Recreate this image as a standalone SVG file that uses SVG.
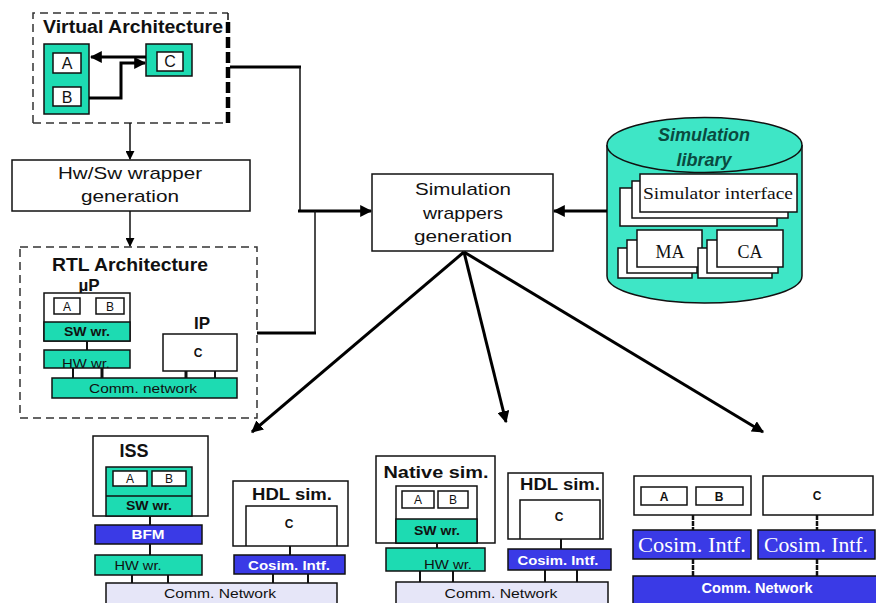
<svg xmlns="http://www.w3.org/2000/svg" width="876" height="603" viewBox="0 0 876 603">
<defs>
<style>
text{font-family:"Liberation Sans",Arial,sans-serif;fill:#111;text-anchor:middle}
.b{font-weight:bold}
.serif{font-family:"Liberation Serif","Times New Roman",serif}
.w{fill:#fff}
.box{fill:#fff;stroke:#111;stroke-width:1.5}
.teal{fill:#1ddbb2;stroke:#111;stroke-width:1.5}
.blue{fill:#3a3ae6;stroke:#111;stroke-width:1.5}
.lav{fill:#e6e6f8;stroke:#111;stroke-width:1.5}
.thin{stroke:#111;stroke-width:1.5;fill:none}
.thick{stroke:#000;stroke-width:3;fill:none}
.dash{fill:none;stroke:#333;stroke-width:1.5;stroke-dasharray:8 5}
.tick{stroke:#111;stroke-width:2}
.chain{stroke:#111;stroke-width:2.5;stroke-dasharray:5 1}
</style>
<marker id="ah" viewBox="0 0 10 10" refX="9" refY="5" markerWidth="4" markerHeight="4" orient="auto" markerUnits="strokeWidth">
<path d="M0,0 L10,5 L0,10 z" fill="#000"/>
</marker>
<marker id="ah2" viewBox="0 0 10 10" refX="9" refY="5" markerWidth="6" markerHeight="6" orient="auto" markerUnits="strokeWidth">
<path d="M0,0 L10,5 L0,10 z" fill="#000"/>
</marker>
</defs>

<g id="virtual-architecture">
<path d="M33,123 V13 H228" class="dash"/>
<path d="M228,13 V20" class="thin"/>
<path d="M228,22 V123" fill="none" stroke="#000" stroke-width="4.5" stroke-dasharray="11 4"/>
<path d="M33,123 H228" class="dash"/>
<text x="133" y="33" class="b" font-size="18" textLength="180" lengthAdjust="spacingAndGlyphs">Virtual Architecture</text>
<rect x="44" y="44" width="45" height="70" class="teal"/>
<rect x="53" y="53" width="28" height="20" class="box"/>
<text x="67" y="69" font-size="16">A</text>
<rect x="53" y="87" width="28" height="19" class="box"/>
<text x="67" y="103" font-size="16">B</text>
<rect x="146" y="44" width="46" height="32" class="teal"/>
<rect x="157" y="52" width="26" height="19" class="box"/>
<text x="170" y="67" font-size="16">C</text>
</g>

<g id="hwsw-wrapper">
<rect x="12" y="160" width="238" height="51" class="box"/>
<text x="130" y="179" font-size="17" textLength="144" lengthAdjust="spacingAndGlyphs">Hw/Sw wrapper</text>
<text x="130" y="202" font-size="17" textLength="98" lengthAdjust="spacingAndGlyphs">generation</text>
</g>

<g id="rtl-architecture">
<rect x="20" y="247" width="237" height="171" class="dash" stroke="#555"/>
<text x="130" y="271" class="b" font-size="18" textLength="156" lengthAdjust="spacingAndGlyphs">RTL Architecture</text>
<text x="89" y="291" class="b" font-size="17">µP</text>
<rect x="44" y="293" width="86" height="48" class="box"/>
<rect x="54" y="298" width="26" height="16" class="box"/>
<text x="67" y="311" font-size="12">A</text>
<rect x="96" y="298" width="28" height="16" class="box"/>
<text x="110" y="311" font-size="12">B</text>
<rect x="44" y="322" width="86" height="19" class="teal"/>
<text x="87" y="336" class="b" font-size="12" textLength="46" lengthAdjust="spacingAndGlyphs">SW wr.</text>
<line x1="87" y1="341" x2="87" y2="350" class="tick"/>
<rect x="44" y="350" width="86" height="18" class="teal"/>
<text x="86" y="368" font-size="13" textLength="48" lengthAdjust="spacingAndGlyphs">HW wr.</text>
<text x="202" y="329" class="b" font-size="17">IP</text>
<rect x="163" y="334" width="74" height="37" class="box"/>
<text x="198" y="357" class="b" font-size="12">C</text>
<line x1="73" y1="368" x2="73" y2="378" class="tick"/>
<line x1="102" y1="368" x2="102" y2="378" stroke="#111" stroke-width="3"/>
<line x1="186" y1="371" x2="186" y2="378" stroke="#111" stroke-width="3"/>
<line x1="215" y1="371" x2="215" y2="378" class="tick"/>
<rect x="52" y="378" width="185" height="20" class="teal"/>
<text x="143" y="393" font-size="13" textLength="108" lengthAdjust="spacingAndGlyphs">Comm. network</text>
</g>

<g id="simulation-wrappers">
<rect x="372" y="174" width="181" height="77" class="box"/>
<text x="463" y="195" font-size="17" textLength="96" lengthAdjust="spacingAndGlyphs">Simulation</text>
<text x="463" y="219" font-size="17" textLength="80" lengthAdjust="spacingAndGlyphs">wrappers</text>
<text x="463" y="242" font-size="17" textLength="98" lengthAdjust="spacingAndGlyphs">generation</text>
</g>

<g id="simulation-library">
<path d="M607,145 V276 A97.5,27 0 0 0 802,276 V145" fill="#3ee6c6" stroke="#111" stroke-width="1.5"/>
<ellipse cx="704.5" cy="145" rx="97.5" ry="27.5" fill="#3ee6c6" stroke="#111" stroke-width="1.5"/>
<text x="704" y="141" class="b" font-size="18" font-style="italic" style="fill:#0a4a40">Simulation</text>
<text x="704" y="166" class="b" font-size="18" font-style="italic" style="fill:#0a4a40">library</text>
<rect x="620" y="188" width="157" height="38" class="box" stroke-width="1.2"/>
<rect x="632" y="181" width="156" height="37" class="box" stroke-width="1.2"/>
<rect x="640" y="174" width="157" height="38" class="box" stroke-width="1.2"/>
<text x="718" y="199" class="serif" font-size="17" textLength="150" lengthAdjust="spacingAndGlyphs">Simulator interface</text>
<rect x="618" y="248" width="74" height="30" class="box" stroke-width="1.2"/>
<rect x="627" y="240" width="70" height="33" class="box" stroke-width="1.2"/>
<rect x="637" y="230" width="65" height="37" class="box" stroke-width="1.2"/>
<text x="670" y="258" class="serif" font-size="18">MA</text>
<rect x="698" y="248" width="74" height="30" class="box" stroke-width="1.2"/>
<rect x="707" y="240" width="71" height="33" class="box" stroke-width="1.2"/>
<rect x="717" y="230" width="66" height="37" class="box" stroke-width="1.2"/>
<text x="750" y="258" class="serif" font-size="18">CA</text>
</g>

<g id="iss-panel">
<rect x="93" y="436" width="115" height="80" class="box"/>
<text x="134" y="457" class="b" font-size="18">ISS</text>
<rect x="106" y="467" width="86" height="49" class="teal"/>
<rect x="113" y="471" width="34" height="15" class="box"/>
<text x="130" y="483" font-size="12">A</text>
<rect x="152" y="471" width="34" height="15" class="box"/>
<text x="169" y="483" font-size="12">B</text>
<line x1="106" y1="496" x2="192" y2="496" class="thin"/>
<text x="149" y="510" class="b" font-size="12" textLength="46" lengthAdjust="spacingAndGlyphs">SW wr.</text>
<line x1="150" y1="516" x2="150" y2="525" class="tick"/>
<rect x="95" y="525" width="107" height="19" class="blue"/>
<text x="148" y="539" class="b w" font-size="12" textLength="33" lengthAdjust="spacingAndGlyphs">BFM</text>
<line x1="150" y1="544" x2="150" y2="555" class="tick"/>
<rect x="95" y="555" width="107" height="20" class="teal"/>
<text x="138" y="570" font-size="13" textLength="47" lengthAdjust="spacingAndGlyphs">HW wr.</text>
<line x1="132" y1="575" x2="132" y2="583" class="tick"/>
<line x1="168" y1="575" x2="168" y2="583" class="tick"/>
</g>

<g id="hdl-sim-1">
<rect x="233" y="481" width="115" height="65" class="box"/>
<text x="292" y="500" class="b" font-size="17" textLength="80" lengthAdjust="spacingAndGlyphs">HDL sim.</text>
<path d="M246,546 V506 H337 V546" class="thin"/>
<text x="289" y="528" class="b" font-size="12">C</text>
<line x1="290" y1="546" x2="290" y2="555" class="tick"/>
<rect x="234" y="555" width="111" height="19" class="blue"/>
<text x="289" y="570" class="b w" font-size="12" textLength="82" lengthAdjust="spacingAndGlyphs">Cosim. Intf.</text>
<line x1="273" y1="574" x2="273" y2="583" class="tick"/>
<line x1="308" y1="574" x2="308" y2="583" class="tick"/>
<rect x="106" y="583" width="231" height="22" class="lav"/>
<text x="220" y="598" font-size="13" textLength="112" lengthAdjust="spacingAndGlyphs">Comm. Network</text>
</g>

<g id="native-sim-panel">
<rect x="376" y="456" width="119" height="87" class="box"/>
<text x="436" y="478" class="b" font-size="17" textLength="105" lengthAdjust="spacingAndGlyphs">Native sim.</text>
<rect x="396" y="486" width="81" height="57" class="box"/>
<rect x="402" y="491" width="32" height="17" class="box"/>
<text x="418" y="504" font-size="12">A</text>
<rect x="438" y="491" width="30" height="17" class="box"/>
<text x="453" y="504" font-size="12">B</text>
<rect x="396" y="519" width="81" height="24" class="teal"/>
<text x="437" y="535" class="b" font-size="12" textLength="46" lengthAdjust="spacingAndGlyphs">SW wr.</text>
<line x1="437" y1="543" x2="437" y2="548" class="tick"/>
<rect x="386" y="548" width="99" height="23" class="teal"/>
<text x="448" y="569" font-size="13" textLength="48" lengthAdjust="spacingAndGlyphs">HW wr.</text>
<line x1="420" y1="571" x2="420" y2="582" class="tick"/>
<line x1="453" y1="571" x2="453" y2="582" class="tick"/>
</g>

<g id="hdl-sim-2">
<rect x="508" y="473" width="95" height="66" class="box"/>
<text x="560" y="490" class="b" font-size="17" textLength="80" lengthAdjust="spacingAndGlyphs">HDL sim.</text>
<path d="M520,539 V500 H600 V539" class="thin"/>
<text x="559" y="521" class="b" font-size="12">C</text>
<line x1="561" y1="539" x2="561" y2="549" class="tick"/>
<rect x="508" y="549" width="103" height="21" class="blue"/>
<text x="558" y="565" class="b w" font-size="12" textLength="81" lengthAdjust="spacingAndGlyphs">Cosim. Intf.</text>
<line x1="545" y1="570" x2="545" y2="582" class="tick"/>
<line x1="577" y1="570" x2="577" y2="582" class="tick"/>
<rect x="396" y="582" width="212" height="23" class="lav"/>
<text x="501" y="598" font-size="13" textLength="113" lengthAdjust="spacingAndGlyphs">Comm. Network</text>
</g>

<g id="cosim-panel">
<rect x="634" y="476" width="117" height="39" class="box"/>
<rect x="641" y="487" width="46" height="18" class="box"/>
<text x="664" y="501" class="b" font-size="12">A</text>
<rect x="696" y="487" width="47" height="18" class="box"/>
<text x="719" y="501" class="b" font-size="12">B</text>
<rect x="763" y="476" width="110" height="39" class="box"/>
<text x="817" y="500" class="b" font-size="12">C</text>
<line x1="693" y1="515" x2="693" y2="530" class="chain"/>
<line x1="817" y1="515" x2="817" y2="530" class="chain"/>
<rect x="633" y="530" width="118" height="29" class="blue"/>
<text x="692" y="552" class="serif w" font-size="20" textLength="108" lengthAdjust="spacingAndGlyphs">Cosim. Intf.</text>
<rect x="758" y="530" width="117" height="29" class="blue"/>
<text x="816" y="552" class="serif w" font-size="20" textLength="104" lengthAdjust="spacingAndGlyphs">Cosim. Intf.</text>
<line x1="693" y1="559" x2="693" y2="576" class="chain"/>
<line x1="817" y1="559" x2="817" y2="576" class="chain"/>
<rect x="633" y="576" width="250" height="30" class="blue"/>
<text x="757" y="593" class="b w" font-size="14" textLength="111" lengthAdjust="spacingAndGlyphs">Comm. Network</text>
</g>

<g id="connectors">
<line x1="146" y1="57" x2="91" y2="57" class="thick" marker-end="url(#ah)"/>
<path d="M89,98 H121 V63 H145" class="thick" marker-end="url(#ah)"/>
<line x1="130" y1="123" x2="130" y2="159" class="thin" stroke-width="2" marker-end="url(#ah2)"/>
<line x1="130" y1="211" x2="130" y2="246" class="thin" stroke-width="2" marker-end="url(#ah2)"/>
<line x1="230" y1="67" x2="301" y2="67" class="thick"/>
<line x1="300" y1="67" x2="300" y2="211" class="thin"/>
<line x1="298" y1="211" x2="371" y2="211" class="thick" marker-end="url(#ah)"/>
<line x1="315" y1="211" x2="315" y2="334" class="thin"/>
<line x1="257" y1="333" x2="316" y2="333" class="thick"/>
<line x1="607" y1="211" x2="554" y2="211" class="thick" marker-end="url(#ah)"/>
<line x1="464" y1="252" x2="252" y2="432" class="thick" marker-end="url(#ah)"/>
<line x1="464" y1="252" x2="506" y2="422" class="thick" marker-end="url(#ah)"/>
<line x1="464" y1="252" x2="763" y2="432" class="thick" marker-end="url(#ah)"/>
</g>
</svg>
